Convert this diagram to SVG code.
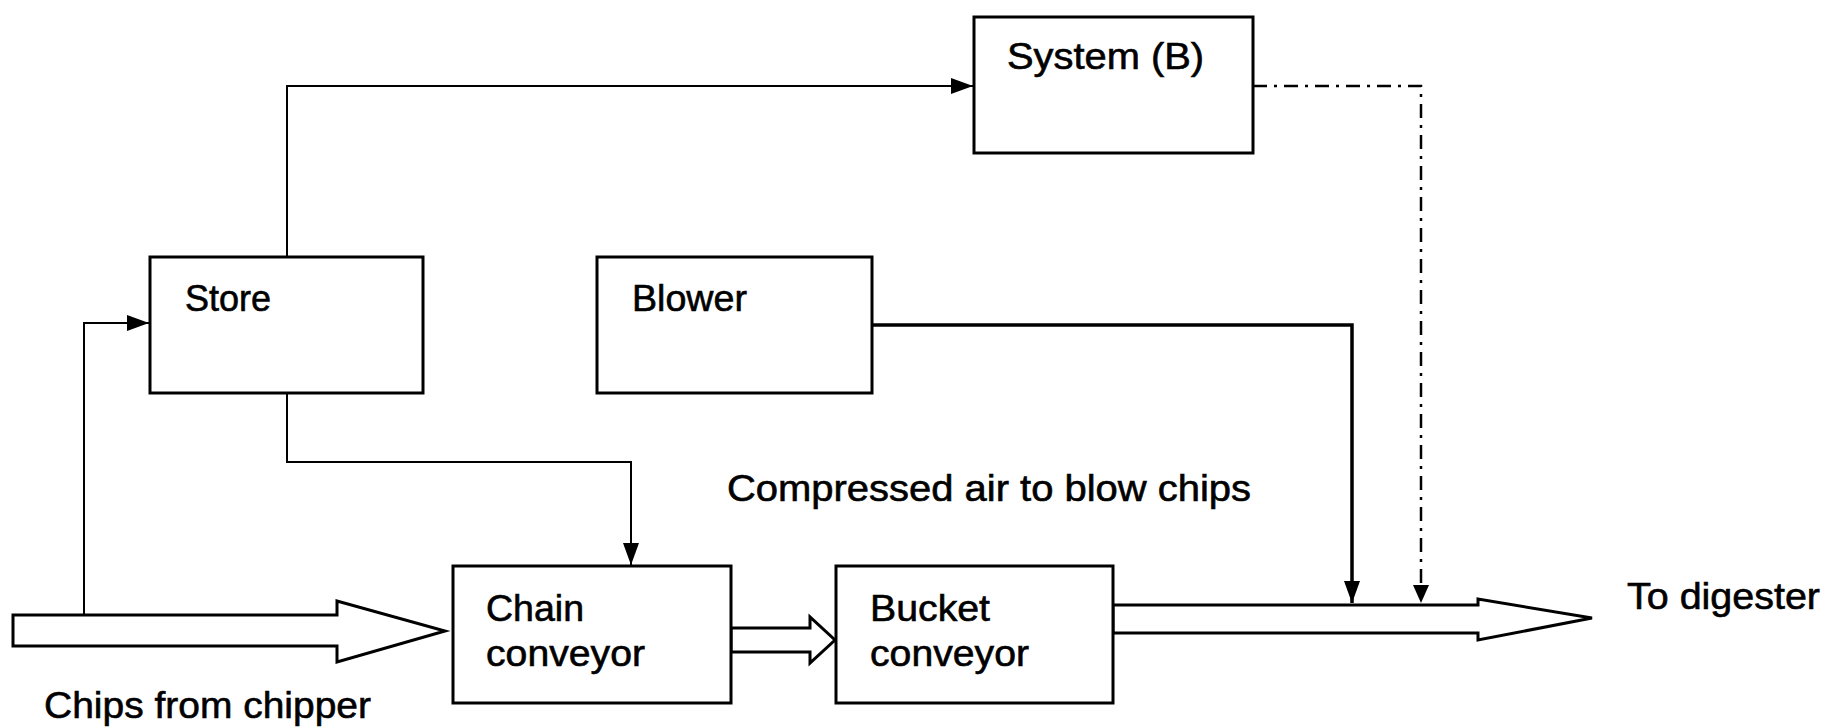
<svg xmlns="http://www.w3.org/2000/svg" width="1828" height="728" viewBox="0 0 1828 728">
<style>
.box{fill:#fff;stroke:#000;stroke-width:3}
.lbl{font-family:"Liberation Sans",Arial,sans-serif;font-size:37px;fill:#000;stroke:#000;stroke-width:0.6}
.ln{fill:none;stroke:#000;stroke-width:2}
.thick{fill:none;stroke:#000;stroke-width:3.5}
.dd{fill:none;stroke:#000;stroke-width:2.5;stroke-dasharray:14 7 3 7}
.big{fill:#fff;stroke:#000;stroke-width:3;stroke-linejoin:miter}
</style>
<defs>
<marker id="ah" markerUnits="userSpaceOnUse" markerWidth="22" markerHeight="16" refX="22" refY="8" orient="auto">
<path d="M0,0 L22,8 L0,16 Z" fill="#000"/>
</marker>
</defs>
<rect width="1828" height="728" fill="#fff"/>
<g id="connectors">
<path class="ln" d="M84,615 V323 H149" marker-end="url(#ah)"/>
<path class="ln" d="M287,257 V86 H973" marker-end="url(#ah)"/>
<path class="ln" d="M287,393 V462 H631 V565" marker-end="url(#ah)"/>
<path class="thick" d="M872,325 H1352 V603" marker-end="url(#ah)"/>
<path class="dd" d="M1253,86 H1421 V588"/>
<path d="M1413,585 L1429,585 L1421,603 Z" fill="#000"/>
<polygon class="big" points="13,615 337,615 337,601 445,631 337,662 337,646 13,646"/>
<polygon class="big" points="731,628 810,628 810,617 835,640 810,663 810,652 731,652"/>
<polygon class="big" points="1113,605 1478,605 1478,599 1592,618 1478,640 1478,633 1113,633"/>
</g>
<g id="store">
<rect class="box" x="150" y="257" width="273" height="136"/>
<text class="lbl" x="185" y="311" textLength="86" lengthAdjust="spacingAndGlyphs">Store</text>
</g>
<g id="blower">
<rect class="box" x="597" y="257" width="275" height="136"/>
<text class="lbl" x="632" y="311" textLength="115" lengthAdjust="spacingAndGlyphs">Blower</text>
</g>
<g id="systemB">
<rect class="box" x="974" y="17" width="279" height="136"/>
<text class="lbl" x="1007" y="69" textLength="197" lengthAdjust="spacingAndGlyphs">System (B)</text>
</g>
<g id="chain">
<rect class="box" x="453" y="566" width="278" height="137"/>
<text class="lbl" x="486" y="621" textLength="98" lengthAdjust="spacingAndGlyphs">Chain</text>
<text class="lbl" x="486" y="666" textLength="159" lengthAdjust="spacingAndGlyphs">conveyor</text>
</g>
<g id="bucket">
<rect class="box" x="836" y="566" width="277" height="137"/>
<text class="lbl" x="870" y="621" textLength="120" lengthAdjust="spacingAndGlyphs">Bucket</text>
<text class="lbl" x="870" y="666" textLength="159" lengthAdjust="spacingAndGlyphs">conveyor</text>
</g>
<g id="labels">
<text class="lbl" x="727" y="501" textLength="524" lengthAdjust="spacingAndGlyphs">Compressed air to blow chips</text>
<text class="lbl" x="1627" y="609" textLength="193" lengthAdjust="spacingAndGlyphs">To digester</text>
<text class="lbl" x="44" y="718" textLength="327" lengthAdjust="spacingAndGlyphs">Chips from chipper</text>
</g>
</svg>
